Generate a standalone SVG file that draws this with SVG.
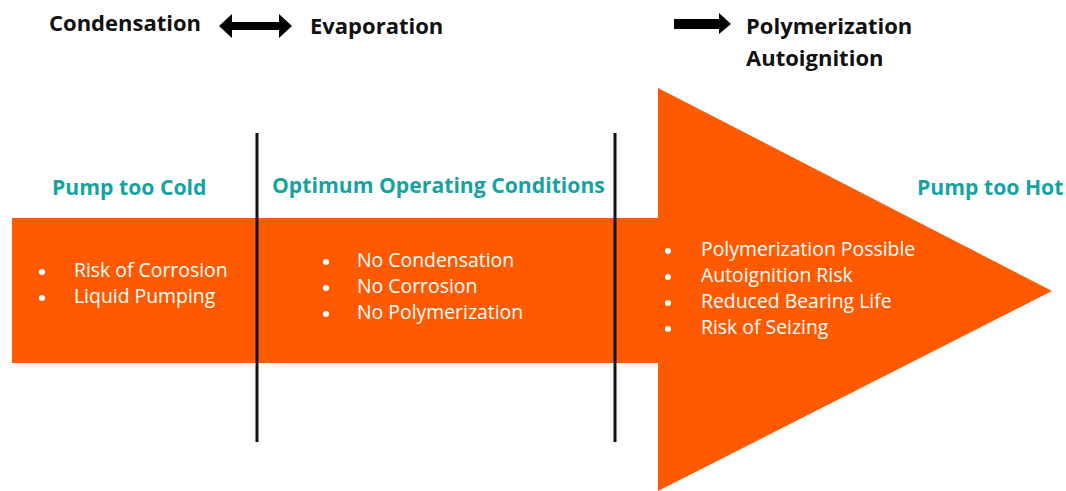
<svg xmlns="http://www.w3.org/2000/svg" width="1066" height="491" viewBox="0 0 1066 491">
  <style>
    .hdr { font-family: "Open Sans", "Liberation Sans", sans-serif; font-weight: 700; font-size: 22px; fill: #111; }
    .zone { font-family: "Open Sans", "Liberation Sans", sans-serif; font-weight: 700; font-size: 21.2px; fill: #15a3a0; }
    .item { font-family: "Open Sans", "Liberation Sans", sans-serif; font-size: 19.4px; fill: #ffffff; }
    .dot { fill: #ffffff; }
    .divider { stroke: #111; stroke-width: 3; }
    .band { fill: #ff5a00; }
    .sym { fill: #000; }
  </style>
  <rect width="1066" height="491" fill="#ffffff"/>

  <!-- temperature band: shaft plus arrowhead -->
  <g id="band">
    <polygon class="band" points="12,218 658,218 658,88 1052,291 658,491 658,363 12,363"/>
  </g>

  <!-- header labels with their arrows -->
  <g id="phase-change">
    <text class="hdr" x="49" y="31">Condensation</text>
    <polygon class="sym" points="219,26 232,14 232,22 279,22 279,14 292,26 279,38 279,30 232,30 232,38"/>
    <text class="hdr" x="310" y="34">Evaporation</text>
  </g>
  <g id="degradation">
    <polygon class="sym" points="674,19 719,19 719,13 731,24 719,34 719,29 674,29"/>
    <text class="hdr" x="746" y="34">Polymerization</text>
    <text class="hdr" x="746" y="66">Autoignition</text>
  </g>

  <!-- zone dividers -->
  <g id="connectors">
    <line class="divider" x1="257" y1="133" x2="257" y2="442"/>
    <line class="divider" x1="615" y1="133" x2="615" y2="442"/>
  </g>

  <!-- cold zone -->
  <g id="zone-cold">
    <text class="zone" x="52" y="195">Pump too Cold</text>
    <circle class="dot" cx="42" cy="272" r="3"/>
    <text class="item" x="74" y="277">Risk of Corrosion</text>
    <circle class="dot" cx="42" cy="298" r="3"/>
    <text class="item" x="74" y="303">Liquid Pumping</text>
  </g>

  <!-- optimum zone -->
  <g id="zone-optimum">
    <text class="zone" x="272" y="193">Optimum Operating Conditions</text>
    <circle class="dot" cx="326" cy="262" r="3"/>
    <text class="item" x="357" y="267">No Condensation</text>
    <circle class="dot" cx="326" cy="288" r="3"/>
    <text class="item" x="357" y="293">No Corrosion</text>
    <circle class="dot" cx="326" cy="314" r="3"/>
    <text class="item" x="357" y="319">No Polymerization</text>
  </g>

  <!-- hot zone -->
  <g id="zone-hot">
    <text class="zone" x="917" y="195">Pump too Hot</text>
    <circle class="dot" cx="668" cy="251" r="3"/>
    <text class="item" x="701" y="256">Polymerization Possible</text>
    <circle class="dot" cx="668" cy="277" r="3"/>
    <text class="item" x="701" y="282">Autoignition Risk</text>
    <circle class="dot" cx="668" cy="303" r="3"/>
    <text class="item" x="701" y="308">Reduced Bearing Life</text>
    <circle class="dot" cx="668" cy="329" r="3"/>
    <text class="item" x="701" y="334">Risk of Seizing</text>
  </g>
</svg>
